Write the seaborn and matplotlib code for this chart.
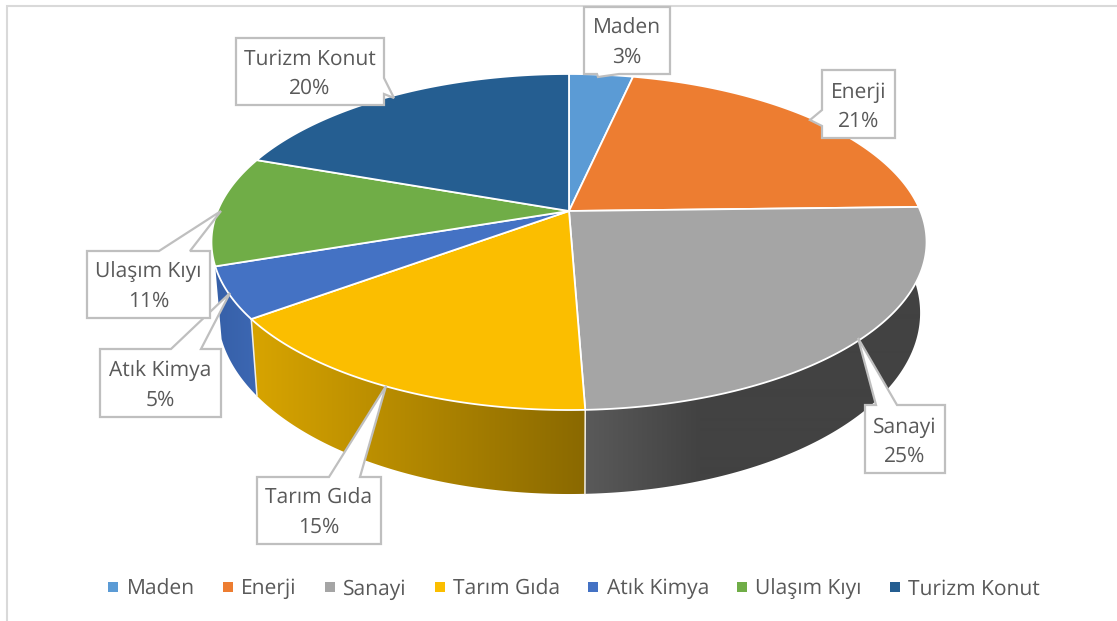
import numpy as np
import matplotlib
matplotlib.use("Agg")
import matplotlib.pyplot as plt
from matplotlib.lines import Line2D
from matplotlib.patches import Polygon, Rectangle
import seaborn as sns

# ---- data -------------------------------------------------------------
categories = ["Maden", "Enerji", "Sanayi", "Tarım Gıda", "Atık Kimya", "Ulaşım Kıyı", "Turizm Konut"]
shares = [3.45, 21.15, 24.8, 15.5, 4.9, 10.6, 19.6]
label_pct = [3, 21, 25, 15, 5, 11, 20]
slice_colors = ["#5B9BD5", "#ED7D31", "#A5A5A5", "#FBBE00", "#4472C4", "#70AD47", "#255E91"]

# ---- style / layout (pixels of the 1117x621 canvas) ---------------------
W, H = 1117, 621
CX, CY = 569.0, 211.0
A, B, K = 351.4, 162.3, -0.1845
WALL_SCALE = 0.982

wall_stops = {
    2: ([584, 700], ["#5A5A5A", "#424242"]),
    3: ([259, 584], ["#D6A300", "#8A6900"]),
    4: ([215, 260], ["#3660A8", "#3D68B4"]),
}

callouts = {
    "Maden": dict(box=(584, 7, 670, 74), side="bottom", gap=(597, 619), tip=(598, 77)),
    "Enerji": dict(box=(822, 70, 895, 138), side="left", gap=(110, 126), tip=(810, 120)),
    "Sanayi": dict(box=(865, 405, 945, 473), side="top", gap=(876, 897), tip=(858, 338)),
    "Tarım Gıda": dict(box=(257, 477, 381, 544), side="top", gap=(329, 360), tip=(386, 386)),
    "Atık Kimya": dict(box=(100, 349, 221, 417), side="top", gap=(171, 201), tip=(230, 293)),
    "Ulaşım Kıyı": dict(box=(87, 251, 210, 318), side="top", gap=(159, 190), tip=(221, 211)),
    "Turizm Konut": dict(box=(236, 38, 384, 105), side="right", gap=(78, 94), tip=(394, 98)),
}

sns.set_theme(style="white")
plt.rcParams["font.family"] = ["Open Sans", "DejaVu Sans"]
plt.rcParams["text.hinting"] = "no_hinting"
plt.rcParams["text.hinting_factor"] = 1
palette = sns.color_palette(slice_colors)


def rim(p):
    """Perspective-projected rim of the top disc at cumulative share p (%)."""
    t = np.radians(np.asarray(p, dtype=float) * 3.6)
    u, v = np.sin(t), np.cos(t)
    d = 1 - K * v
    return CX + A * u / d, CY - B * v / d


def base(x, y):
    """Lower edge of the side wall under a rim point."""
    depth = 84 + 0.078 * (y - 410)
    return CX + (x - CX) * WALL_SCALE, y + depth


fig = plt.figure(figsize=(W / 100, H / 100), dpi=100)
ax = fig.add_axes([0, 0, 1, 1])
ax.set_xlim(0, W)
ax.set_ylim(H, 0)
ax.axis("off")

ax.add_patch(Rectangle((7, 6), W + 20, H + 20, fc="white", ec="#D9D9D9", lw=1.5, zorder=0))

edges = np.concatenate([[0], np.cumsum(shares)])
edges = edges / edges[-1] * 100

# side walls
for i, (x_stops, col_stops) in wall_stops.items():
    p = np.linspace(edges[i], edges[i + 1], 120)
    xt, yt = rim(p)
    xb, yb = base(xt, yt)
    poly = Polygon(np.column_stack([np.r_[xt, xb[::-1]], np.r_[yt, yb[::-1]]]),
                   closed=True, fc="none", ec="none", transform=ax.transData)
    ax.add_patch(poly)
    rgb = np.array([matplotlib.colors.to_rgb(c) for c in col_stops])
    xs = np.arange(0, W)
    grad = np.stack([np.interp(xs, x_stops, rgb[:, c]) for c in range(3)], axis=-1)[None, :, :]
    im = ax.imshow(grad, extent=(0, W, H, 0), aspect="auto", zorder=1, interpolation="bilinear")
    im.set_clip_path(poly)
    # pale separator at the slice's front-right edge
    ax.plot([xt[0], xb[0]], [yt[0], yb[0]], color="#F2EFE6", lw=1.1, zorder=2)
ax.set_xlim(0, W)
ax.set_ylim(H, 0)

# top surface
for i, name in enumerate(categories):
    p = np.linspace(edges[i], edges[i + 1], 120)
    xt, yt = rim(p)
    ax.fill(np.r_[CX, xt], np.r_[CY, yt], facecolor=palette[i], edgecolor="white",
            linewidth=1.3, joinstyle="round", zorder=3)


def callout_outline(box, side, gap, tip):
    x0, y0, x1, y1 = box
    a, b = gap
    if side == "top":
        return [(x0, y0), (a, y0), tip, (b, y0), (x1, y0), (x1, y1), (x0, y1)]
    if side == "bottom":
        return [(x0, y0), (x1, y0), (x1, y1), (b, y1), tip, (a, y1), (x0, y1)]
    if side == "left":
        return [(x0, y0), (x1, y0), (x1, y1), (x0, y1), (x0, b), tip, (x0, a)]
    return [(x0, y0), (x1, y0), (x1, a), tip, (x1, b), (x1, y1), (x0, y1)]


for name, pct in zip(categories, label_pct):
    c = callouts[name]
    ax.add_patch(Polygon(callout_outline(c["box"], c["side"], c["gap"], c["tip"]), closed=True,
                         fc="white", ec="#BFBFBF", lw=1.6, joinstyle="miter", zorder=5))
    x0, y0, x1, y1 = c["box"]
    ax.text((x0 + x1) / 2, (y0 + y1) / 2 + 2.5, f"{name}\n{pct}%", ha="center", va="center",
            fontsize=15, color="#595959", linespacing=1.5, zorder=6)

handles = [Line2D([], [], ls="", marker="s", ms=7, mfc=c, mec=c, mew=0) for c in palette]
ax.legend(handles, categories, loc="center", bbox_to_anchor=(574, 589),
          bbox_transform=ax.transData, ncol=7, frameon=False, fontsize=15,
          labelcolor="#595959", handlelength=0.5, handletextpad=0.4, columnspacing=1.33, borderpad=0)

fig.savefig("out.png", dpi=100)
